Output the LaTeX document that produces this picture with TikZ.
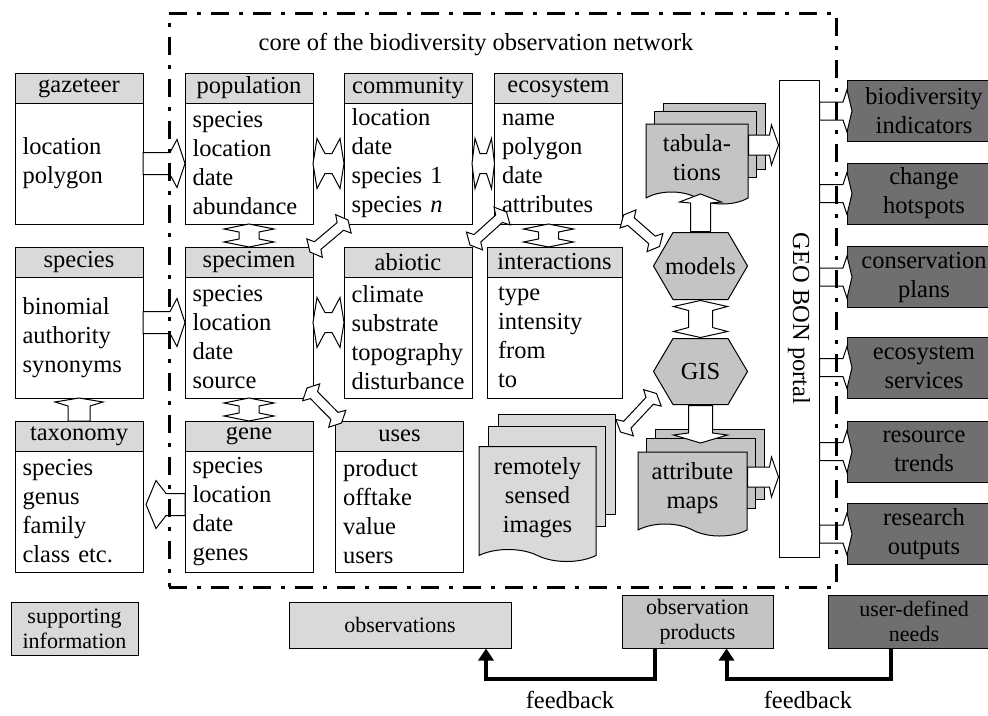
\documentclass[tikz,border=0pt]{standalone}
\usepackage{fontspec}
\setmainfont{Liberation Serif}
\usetikzlibrary{positioning,calc,shapes.symbols,arrows.meta}

\definecolor{headgray}{HTML}{D9D9DB}
\definecolor{docgray}{HTML}{C4C4C7}
\definecolor{outgray}{HTML}{6F6F72}

\tikzset{
  head/.style={draw, fill=headgray, minimum width=128pt, minimum height=30pt, inner sep=0pt, outer sep=0pt},
  body/.style={draw, fill=white, text width=113pt, inner xsep=7.5pt, inner ysep=0pt, minimum height=121pt, outer sep=0pt, align=left},
  outbox/.style={draw, fill=outgray, minimum width=153pt, minimum height=61pt, inner sep=0pt, align=center, anchor=west},
  smallbox/.style={draw, inner sep=0pt, align=center, font=\fontsize{22}{25}\selectfont},
  doc/.style={tape, tape bend top=none, tape bend bottom=out and in, tape bend height=12pt, draw, fill=docgray, inner sep=0pt, align=center},
  sheet/.style={draw, fill=docgray},
  hexa/.style={minimum width=95pt, minimum height=68pt, inner sep=0pt,
    path picture={\draw[fill=docgray] ([xshift=0.5pt]path picture bounding box.west)
      -- ([xshift=20pt,yshift=-0.5pt]path picture bounding box.north west)
      -- ([xshift=-20pt,yshift=-0.5pt]path picture bounding box.north east)
      -- ([xshift=-0.5pt]path picture bounding box.east)
      -- ([xshift=-20pt,yshift=0.5pt]path picture bounding box.south east)
      -- ([xshift=20pt,yshift=0.5pt]path picture bounding box.south west) -- cycle;}},
  % hollow block arrows: shaft half width, head half width, barb distance, head length
  barrow/.style n args={4}{draw, fill=white, line join=miter, to path={
      ($(\tikztostart)!#1!90:(\tikztotarget)$)
      -- ($(\tikztotarget)!#4!(\tikztostart)!#1!-90:(\tikztostart)$)
      -- ($(\tikztotarget)!#3!(\tikztostart)!#2!-90:(\tikztostart)$)
      -- (\tikztotarget)
      -- ($(\tikztotarget)!#3!(\tikztostart)!#2!90:(\tikztostart)$)
      -- ($(\tikztotarget)!#4!(\tikztostart)!#1!90:(\tikztostart)$)
      -- ($(\tikztostart)!#1!-90:(\tikztotarget)$) -- cycle}},
  dbarrow/.style n args={4}{draw, fill=white, line join=miter, to path={
      ($(\tikztostart)!#4!(\tikztotarget)!#1!90:(\tikztotarget)$)
      -- ($(\tikztostart)!#3!(\tikztotarget)!#2!90:(\tikztotarget)$)
      -- (\tikztostart)
      -- ($(\tikztostart)!#3!(\tikztotarget)!#2!-90:(\tikztotarget)$)
      -- ($(\tikztostart)!#4!(\tikztotarget)!#1!-90:(\tikztotarget)$)
      -- ($(\tikztotarget)!#4!(\tikztostart)!#1!90:(\tikztostart)$)
      -- ($(\tikztotarget)!#3!(\tikztostart)!#2!90:(\tikztostart)$)
      -- (\tikztotarget)
      -- ($(\tikztotarget)!#3!(\tikztostart)!#2!-90:(\tikztostart)$)
      -- ($(\tikztotarget)!#4!(\tikztostart)!#1!-90:(\tikztostart)$) -- cycle}},
  feedback/.style={line width=4pt, line join=miter, -{Triangle[width=15pt,length=12pt]}},
  coreframe/.style={draw, line width=3pt, dash pattern=on 18pt off 10pt on 4pt off 10pt, minimum width=667pt, minimum height=574pt, inner sep=0pt}
}

\begin{document}
\begin{tikzpicture}[x=1pt, y=-1pt, line width=1pt, font=\fontsize{24.5}{29}\selectfont]

\path[use as bounding box, clip] (0,0) rectangle (988,715);

\node (corelabel) at (476,45) {core of the biodiversity observation network};

% tables
\foreach \n/\t/\x/\y in {gaz/gazeteer/79/88, pop/population/249/88, comm/community/408/88,
    eco/ecosystem/558.5/88, species/species/79/262, spec/specimen/249/262, abio/abiotic/408/262,
    taxo/taxonomy/79/436, gene/gene/249/436, uses/uses/399.5/436}
  \node[head] (\n-h) at (\x,\y) {\t};
\node[head, minimum width=135pt] (inter-h) at (554.5,262) {interactions};

\node[body, below=0pt of gaz-h] (gaz) {location\\polygon};
\node[body, below=0pt of pop-h] (pop) {species\\location\\date\\abundance};
\node[body, below=0pt of comm-h] (comm) {location\\date\\species 1\\species \textit{n}};
\node[body, below=0pt of eco-h] (eco) {name\\polygon\\date\\attributes};
\node[body, below=0pt of species-h] (species) {binomial\\authority\\synonyms};
\node[body, below=0pt of spec-h] (spec) {species\\location\\date\\source};
\node[body, below=0pt of abio-h] (abio) {climate\\substrate\\topography\\disturbance};
\node[body, text width=113pt, inner xsep=11pt, below=0pt of inter-h] (inter) {type\\intensity\\from\\to};
\node[body, below=0pt of taxo-h] (taxo) {species\\genus\\family\\class etc.};
\node[body, below=0pt of gene-h] (gene) {species\\location\\date\\genes};
\node[body, below=0pt of uses-h] (uses) {product\\offtake\\value\\users};

% products (stacked sheets behind the front page)
\foreach \s in {2,1}{
  \draw[sheet] (646+8.5*\s,120-8.5*\s) rectangle ++(102,66);
  \draw[sheet] (638+8.5*\s,447-9*\s) rectangle ++(109,70);
  \draw[sheet, fill=headgray] (479+9.5*\s,439-12.5*\s) rectangle ++(117,100);
}
\node[doc, minimum width=102pt, minimum height=80pt] (tab) at (697,158) {tabula-\\tions};
\node[doc, minimum width=109pt, minimum height=84pt] (attr) at (692.5,488) {attribute\\maps};
\node[doc, fill=headgray, minimum width=117pt, minimum height=115pt] (remote) at (537.5,498) {remotely\\sensed\\images};

\node[hexa] (models) at (700.5,266) {models};
\node[hexa, minimum height=67pt] (gis) at (700.5,371.5) {GIS};

\node[draw, fill=white, minimum width=40pt, minimum height=477pt, inner sep=0pt] (portal) at (799,318.5) {\rotatebox{-90}{GEO BON portal}};

\foreach \n/\t/\y in {ind/{biodiversity\\indicators}/111, hot/{change\\hotspots}/193.5,
    cons/{conservation\\plans}/277, serv/{ecosystem\\services}/367.5,
    trend/{resource\\trends}/451.5, res/{research\\outputs}/534}
  \node[outbox] (\n) at (847,\y) {\t};

\node[smallbox, fill=headgray, minimum width=127pt, minimum height=53pt] (supp) at (74.5,628.5) {supporting\\information};
\node[smallbox, fill=headgray, minimum width=222pt, minimum height=46pt] (obs) at (400,625) {observations};
\node[smallbox, fill=docgray, minimum width=151pt, minimum height=53pt] (prod) at (697.5,621.5) {observation\\products};
\node[smallbox, fill=outgray, minimum width=172pt, minimum height=53pt] (need) at (914,621.5) {user-defined\\needs};

% arrow ends
\coordinate (sp-r) at ([yshift=15pt]species.east);
\coordinate (spec-l) at ([yshift=15pt]spec.west);
\coordinate (spec-r) at ([yshift=15pt]spec.east);
\coordinate (abio-l) at ([yshift=15pt]abio.west);
\coordinate (gene-l) at ([yshift=7pt]gene.west);
\coordinate (taxo-r) at ([shift={(3,-7)}]taxo.east);
\coordinate (eco-b) at ([xshift=-10pt]eco.south);
\coordinate (inter-t) at (eco-b |- inter-h.north);
\coordinate (d1a) at ([shift={(-3,5)}]spec-h.north east);
\coordinate (d1b) at ([shift={(4,-4)}]comm.south west);
\coordinate (d2a) at ([shift={(-17,-2)}]inter-h.north west);
\coordinate (d2b) at ([shift={(12,-12)}]eco.south west);
\coordinate (d3a) at ([shift={(1,-9)}]eco.south east);
\coordinate (d3b) at ([shift={(7,15)}]models.north west);
\coordinate (d4a) at ([shift={(-6,-10)}]spec.south east);
\coordinate (d4b) at ([shift={(6,2)}]uses-h.north west);
\coordinate (d5a) at ([shift={(4,-12)}]gis.south west);
\coordinate (d5b) at ([shift={(24,-14)}]remote.north east);
\coordinate (tab-in) at (models.north |- 0,194);
\coordinate (attr-in) at (gis.south |- 0,443);
\coordinate (tab-out) at (tab.east |- 0,145);
\coordinate (attr-out) at (attr.east |- 0,477);

\draw[barrow={11pt}{24pt}{8pt}{15pt}] (gaz.east) to (pop.west);
\draw[barrow={11pt}{24pt}{8pt}{15pt}] (sp-r) to (spec-l);
\draw[barrow={11pt}{24pt}{10pt}{20pt}] (gene-l) to (taxo-r);
\draw[barrow={11pt}{24pt}{4pt}{8pt}] (taxo-h.north) to (species.south);
\draw[dbarrow={10pt}{25pt}{4pt}{12pt}] (pop.east) to (comm.west);
\draw[dbarrow={10pt}{25pt}{3pt}{8pt}] (comm.east) to (eco.west);
\draw[dbarrow={10pt}{25pt}{4pt}{12pt}] (spec-r) to (abio-l);
\draw[dbarrow={10pt}{25pt}{5pt}{8pt}] (pop.south) to (spec-h.north);
\draw[dbarrow={10pt}{25pt}{5pt}{8pt}] (spec.south) to (gene-h.north);
\draw[dbarrow={10pt}{25pt}{5pt}{8pt}] (eco-b) to (inter-t);
\foreach \a/\b in {d1a/d1b, d2a/d2b, d3a/d3b, d4a/d4b, d5a/d5b}
  \draw[dbarrow={5pt}{12pt}{6pt}{10pt}] (\a) to (\b);
\draw[barrow={10pt}{21pt}{8pt}{9pt}] (models.north) to (tab-in);
\draw[dbarrow={12pt}{27pt}{6pt}{10pt}] (models.south) to (gis.north);
\draw[barrow={12pt}{27pt}{8pt}{10pt}] (gis.south) to (attr-in);
\draw[barrow={10pt}{20pt}{7pt}{9pt}] (tab-out) to (portal.west |- tab-out);
\draw[barrow={10pt}{20pt}{7pt}{9pt}] (attr-out) to (portal.west |- attr-out);
\foreach \n in {ind,hot,cons,serv,trend,res}{
  \coordinate (\n-in) at ([xshift=5pt]\n.west);
  \draw[barrow={9pt}{21pt}{5pt}{9pt}] (portal.east |- \n.west) to (\n-in);
}

% feedback loops
\draw[feedback] ([xshift=-43pt]prod.south) -- ++(0,30) -| ([xshift=86pt]obs.south);
\draw[feedback] ([xshift=-23pt]need.south) -- ++(0,30) -| ([xshift=29pt]prod.south);
\node (fb1) at (570,700) {feedback};
\node (fb2) at (808,700) {feedback};

\node[coreframe] (core) at (502.5,300) {};
\end{tikzpicture}
\end{document}
